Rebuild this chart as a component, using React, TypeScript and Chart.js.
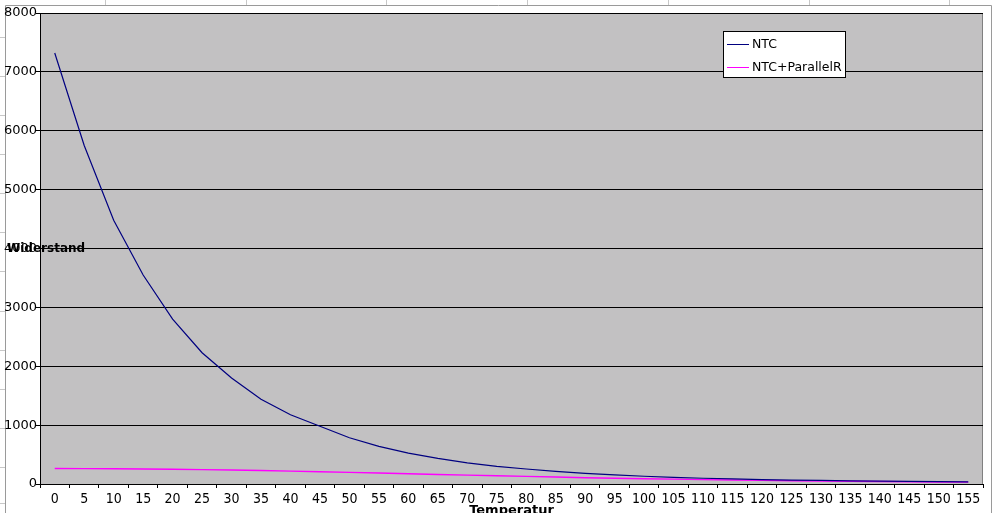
import React, { useEffect, useRef } from 'react';
import { Chart, registerables } from 'chart.js';

Chart.register(...registerables);

// ---- data ----
const temperatures = [
  '0', '5', '10', '15', '20', '25', '30', '35', '40', '45', '50', '55', '60', '65', '70', '75',
  '80', '85', '90', '95', '100', '105', '110', '115', '120', '125', '130', '135', '140', '145', '150', '155',
];
const ntcValues = [
  7320, 5750, 4480, 3550, 2800, 2230, 1800, 1440, 1175, 980, 785, 640, 525, 435, 360, 300,
  255, 215, 180, 155, 132, 114, 98, 86, 76, 67, 60, 54, 49, 44, 40, 36,
];
const ntcParallelValues = [
  262, 261, 258, 254, 250, 245, 238, 230, 218, 207, 198, 186, 174, 162, 151, 140,
  129, 118, 107, 98, 90, 82, 75, 68, 62, 56, 51, 46, 42, 38, 34, 31,
];
const seriesNames = ['NTC', 'NTC+ParallelR'];
const seriesColors = ['#000080', '#ff00ff'];
const yMin = 0;
const yMax = 8000;
const yStep = 1000;
const xTitle = 'Temperatur';
const yTitle = 'Widerstand';

// ---- layout / style ----
const W = 994;
const H = 513;
const PLOT_BG = '#c2c1c2';
const TICK_FONT = '"Liberation Sans Narrow", "DejaVu Sans Condensed", sans-serif';
const TEXT_FONT = '"DejaVu Sans", sans-serif';

const decorPlugin = {
  id: 'decor',
  beforeDraw(chart: any) {
    const { ctx, chartArea } = chart;
    ctx.save();
    ctx.fillStyle = '#ffffff';
    ctx.fillRect(0, 0, W, H);
    // spreadsheet cell lines outside the chart frame
    ctx.strokeStyle = '#c8c8c8';
    ctx.lineWidth = 1;
    const cols = [105, 245.7, 386.4, 527.1, 667.8, 808.5, 949.2];
    cols.forEach((x) => {
      ctx.beginPath();
      ctx.moveTo(Math.round(x) + 0.5, 0);
      ctx.lineTo(Math.round(x) + 0.5, 5);
      ctx.stroke();
    });
    const rows = [37, 76, 115, 154, 193, 232, 271, 311, 350, 389, 428, 467, 503];
    rows.forEach((y) => {
      ctx.beginPath();
      ctx.moveTo(0, y + 0.5);
      ctx.lineTo(5, y + 0.5);
      ctx.stroke();
    });
    // chart frame
    ctx.strokeStyle = '#9a9a9a';
    ctx.beginPath();
    ctx.moveTo(5.5, H);
    ctx.lineTo(5.5, 5.5);
    ctx.lineTo(991.5, 5.5);
    ctx.lineTo(991.5, H);
    ctx.stroke();
    // plot area
    ctx.fillStyle = PLOT_BG;
    ctx.fillRect(chartArea.left, chartArea.top, chartArea.right - chartArea.left, chartArea.bottom - chartArea.top);
    ctx.strokeStyle = '#808080';
    ctx.strokeRect(chartArea.left + 0.5, chartArea.top + 0.5, chartArea.right - chartArea.left - 1, chartArea.bottom - chartArea.top);
    ctx.restore();
  },
  afterDraw(chart: any) {
    const { ctx, chartArea } = chart;
    ctx.save();
    // legend
    const lx = 723.5;
    const ly = 31.5;
    const lw = 122;
    const lh = 46;
    ctx.fillStyle = '#ffffff';
    ctx.fillRect(lx, ly, lw, lh);
    ctx.strokeStyle = '#000000';
    ctx.lineWidth = 1;
    ctx.strokeRect(lx, ly, lw, lh);
    ctx.font = '12.5px ' + TEXT_FONT;
    ctx.textBaseline = 'middle';
    ctx.textAlign = 'left';
    seriesNames.forEach((name, i) => {
      const y = 44 + i * 22.5;
      ctx.strokeStyle = seriesColors[i];
      ctx.beginPath();
      ctx.moveTo(727, Math.round(y) + 0.5);
      ctx.lineTo(749, Math.round(y) + 0.5);
      ctx.stroke();
      ctx.fillStyle = '#000000';
      ctx.fillText(name, 752, y + 1);
    });
    // axis titles
    ctx.font = 'bold 12px ' + TEXT_FONT;
    ctx.fillStyle = '#000000';
    ctx.textBaseline = 'middle';
    ctx.textAlign = 'left';
    ctx.fillText(yTitle, 7, (chartArea.top + chartArea.bottom) / 2 + 0.5);
    ctx.textAlign = 'center';
    ctx.textBaseline = 'alphabetic';
    ctx.font = 'bold 13px ' + TEXT_FONT;
    ctx.fillText(xTitle, (chartArea.left + chartArea.right) / 2, H + 0.5);
    ctx.restore();
  },
};

export default function App() {
  const canvasRef = useRef<HTMLCanvasElement | null>(null);

  useEffect(() => {
    const canvas = canvasRef.current;
    if (!canvas) return;
    const chart = new Chart(canvas, {
      type: 'line',
      data: {
        labels: temperatures,
        datasets: [
          {
            label: seriesNames[0],
            data: ntcValues,
            borderColor: seriesColors[0],
            backgroundColor: seriesColors[0],
            borderWidth: 1.2,
            pointRadius: 0,
            tension: 0,
          },
          {
            label: seriesNames[1],
            data: ntcParallelValues,
            borderColor: seriesColors[1],
            backgroundColor: seriesColors[1],
            borderWidth: 1.4,
            pointRadius: 0,
            tension: 0,
          },
        ],
      },
      options: {
        animation: false,
        responsive: false,
        devicePixelRatio: 1,
        layout: { padding: { left: 0, top: 13, right: 11, bottom: 0 } },
        plugins: {
          legend: { display: false },
          tooltip: { enabled: false },
          title: { display: false },
        },
        scales: {
          x: {
            type: 'category',
            offset: true,
            grid: {
              offset: true,
              drawOnChartArea: false,
              drawTicks: true,
              tickLength: 4,
              color: '#000000',
            },
            border: { display: true, color: '#000000', width: 1 },
            ticks: {
              font: { family: TICK_FONT, size: 14 },
              color: '#000000',
              padding: 3,
              maxRotation: 0,
              minRotation: 0,
              autoSkip: false,
            },
            afterFit: (s: any) => {
              s.height = 29;
            },
          },
          y: {
            min: yMin,
            max: yMax,
            grid: { color: '#000000', tickLength: 4, drawTicks: true },
            border: { display: true, color: '#000000', width: 1 },
            ticks: {
              stepSize: yStep,
              font: { family: TEXT_FONT, size: 13 },
              color: '#000000',
              padding: -1,
              callback: (v: any) => String(v),
            },
            afterFit: (s: any) => {
              s.width = 40;
            },
          },
        },
      },
      plugins: [decorPlugin],
    });
    return () => chart.destroy();
  }, []);

  return (
    <div style={{ position: 'absolute', left: 0, top: 0, width: W, height: H, background: '#fff' }}>
      <canvas ref={canvasRef} width={W} height={H} style={{ display: 'block', width: W, height: H }} />
    </div>
  );
}
